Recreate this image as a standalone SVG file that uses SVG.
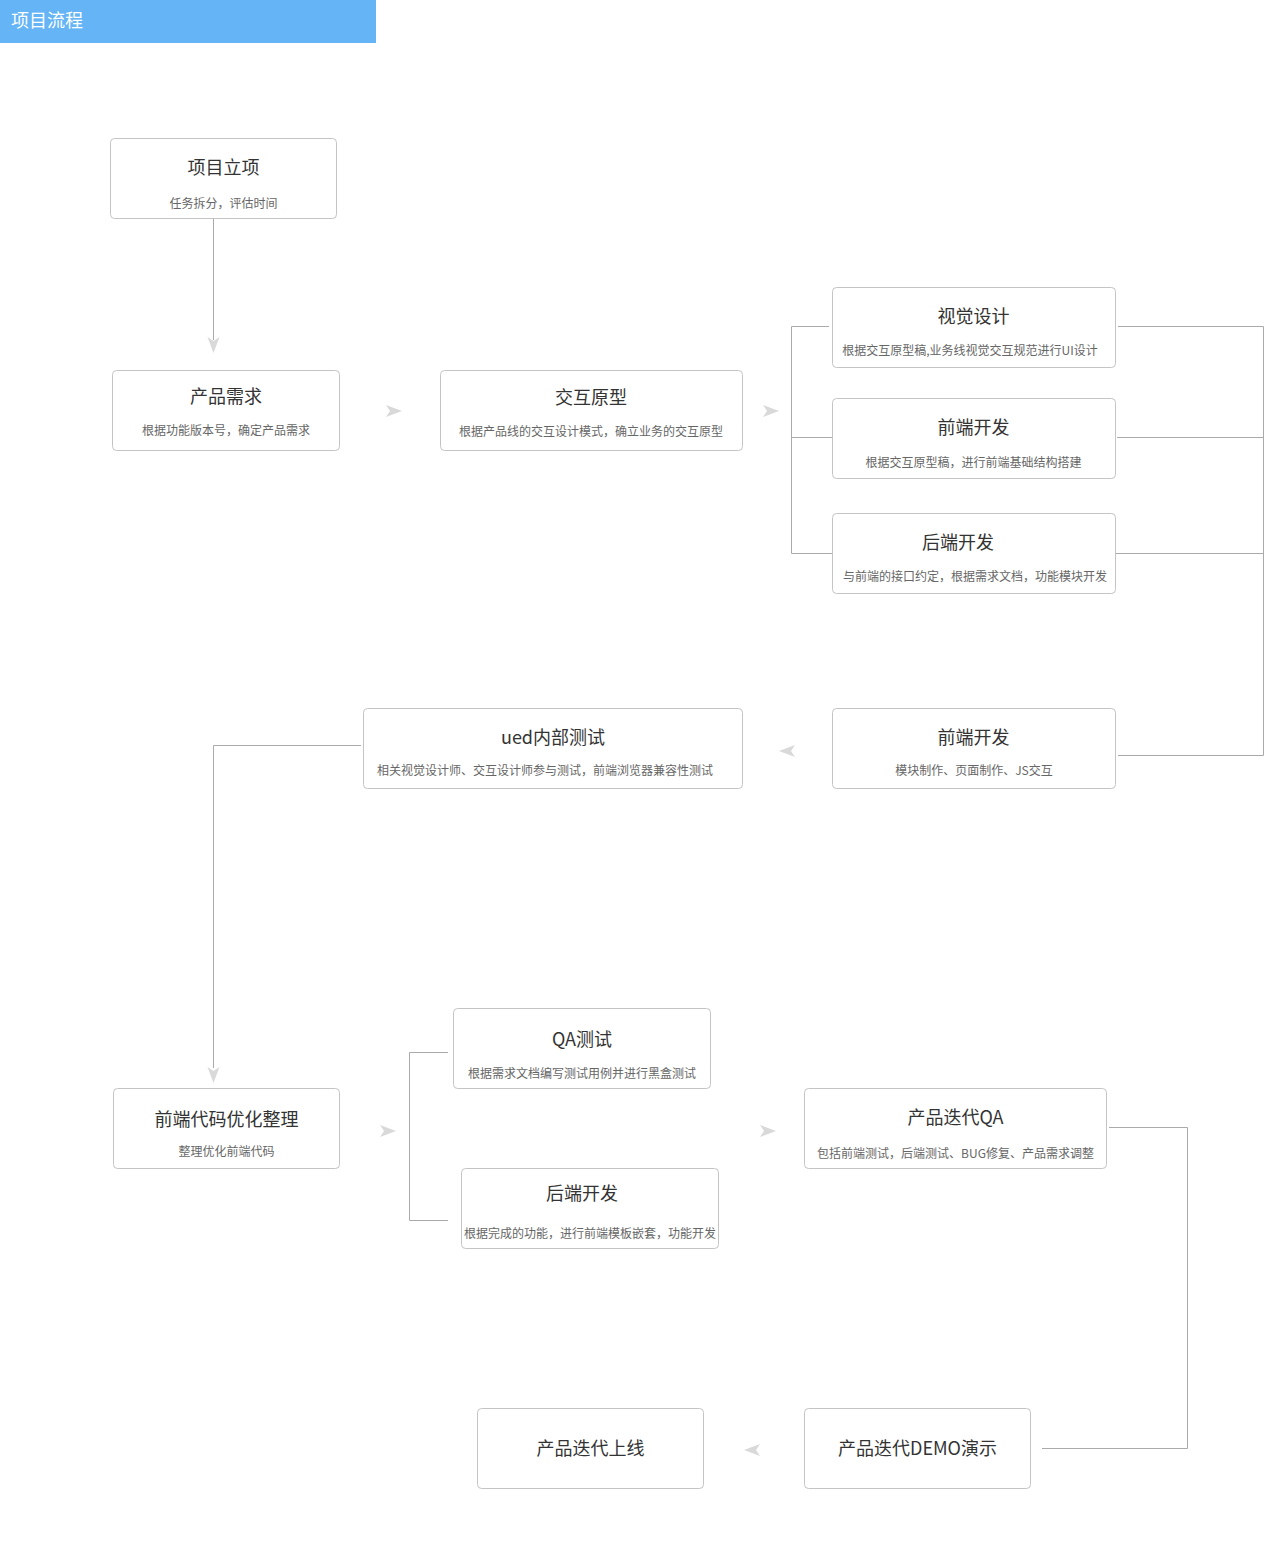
<svg xmlns="http://www.w3.org/2000/svg" width="1285" height="1566" viewBox="0 0 1285 1566">
<style>
.box{fill:#fff;stroke:#c4c4c4;stroke-width:1}
.t{font-family:"Noto Sans CJK SC","Liberation Sans",sans-serif;font-size:18px;fill:#333;text-anchor:middle}
.s{font-family:"Noto Sans CJK SC","Liberation Sans",sans-serif;font-size:12px;fill:#666;text-anchor:middle}
.ln{fill:none;stroke:#aaa;stroke-width:1}
.ar{fill:#d9d9d9}
</style>
<defs>
<path id="arR" d="M8,0 L-8,-6 L-4,0 L-8,6 Z" class="ar"/>
</defs>
<rect x="0" y="0" width="376" height="43" fill="#64b4f6"/>
<text x="11" y="27" font-family="Noto Sans CJK SC,Liberation Sans,sans-serif" font-size="18" fill="#fff">项目流程</text>

<g id="connectors">
<path class="ln" d="M213.5,218 V340"/>
<path class="ln" d="M829,326.5 H791.5 V553.5 H832 M791.5,437.5 H832"/>
<path class="ln" d="M1118,326.5 H1263.5 V755.5 H1118 M1117,437.5 H1263.5 M1116,553.5 H1263.5"/>
<path class="ln" d="M361,745.5 H213.5 V1068"/>
<path class="ln" d="M448,1052.5 H409.5 V1220.5 H448"/>
<path class="ln" d="M1109,1127.5 H1187.5 V1448.5 H1042"/>
<use href="#arR" transform="translate(213.5,345) rotate(90)"/>
<use href="#arR" transform="translate(394,411)"/>
<use href="#arR" transform="translate(771,411)"/>
<use href="#arR" transform="translate(787,751) rotate(180)"/>
<use href="#arR" transform="translate(213.5,1075) rotate(90)"/>
<use href="#arR" transform="translate(388,1131)"/>
<use href="#arR" transform="translate(768,1131)"/>
<use href="#arR" transform="translate(752,1450) rotate(180)"/>
</g>

<g id="n1"><rect class="box" x="110.5" y="138.5" width="226" height="80" rx="4"/><text class="t" x="223.5" y="174">项目立项</text><text class="s" x="223.5" y="208">任务拆分，评估时间</text></g>
<g id="n2"><rect class="box" x="112.5" y="370.5" width="227" height="80" rx="4"/><text class="t" x="226" y="403">产品需求</text><text class="s" x="226" y="435">根据功能版本号，确定产品需求</text></g>
<g id="n3"><rect class="box" x="440.5" y="370.5" width="302" height="80" rx="4"/><text class="t" x="591" y="404">交互原型</text><text class="s" x="591" y="436">根据产品线的交互设计模式，确立业务的交互原型</text></g>
<g id="n4"><rect class="box" x="832.5" y="287.5" width="283" height="80" rx="4"/><text class="t" x="973.5" y="323">视觉设计</text><text class="s" x="970" y="355">根据交互原型稿,业务线视觉交互规范进行UI设计</text></g>
<g id="n5"><rect class="box" x="832.5" y="398.5" width="283" height="80" rx="4"/><text class="t" x="973.5" y="434">前端开发</text><text class="s" x="973.5" y="467">根据交互原型稿，进行前端基础结构搭建</text></g>
<g id="n6"><rect class="box" x="832.5" y="513.5" width="283" height="80" rx="4"/><text class="t" x="958" y="549">后端开发</text><text class="s" x="975" y="581">与前端的接口约定，根据需求文档，功能模块开发</text></g>
<g id="n7"><rect class="box" x="832.5" y="708.5" width="283" height="80" rx="4"/><text class="t" x="973.5" y="744">前端开发</text><text class="s" x="974" y="775">模块制作、页面制作、JS交互</text></g>
<g id="n8"><rect class="box" x="363.5" y="708.5" width="379" height="80" rx="4"/><text class="t" x="553" y="744">ued内部测试</text><text class="s" x="545" y="775">相关视觉设计师、交互设计师参与测试，前端浏览器兼容性测试</text></g>
<g id="n9"><rect class="box" x="113.5" y="1088.5" width="226" height="80" rx="4"/><text class="t" x="226.5" y="1126">前端代码优化整理</text><text class="s" x="226.5" y="1156">整理优化前端代码</text></g>
<g id="n10"><rect class="box" x="453.5" y="1008.5" width="257" height="80" rx="4"/><text class="t" x="582" y="1046">QA测试</text><text class="s" x="582" y="1078">根据需求文档编写测试用例并进行黑盒测试</text></g>
<g id="n11"><rect class="box" x="461.5" y="1168.5" width="257" height="80" rx="4"/><text class="t" x="582" y="1200">后端开发</text><text class="s" x="590" y="1238">根据完成的功能，进行前端模板嵌套，功能开发</text></g>
<g id="n12"><rect class="box" x="804.5" y="1088.5" width="302" height="80" rx="4"/><text class="t" x="955.5" y="1124">产品迭代QA</text><text class="s" x="955.5" y="1158">包括前端测试，后端测试、BUG修复、产品需求调整</text></g>
<g id="n13"><rect class="box" x="477.5" y="1408.5" width="226" height="80" rx="4"/><text class="t" x="590.5" y="1455">产品迭代上线</text></g>
<g id="n14"><rect class="box" x="804.5" y="1408.5" width="226" height="80" rx="4"/><text class="t" x="917.5" y="1455">产品迭代DEMO演示</text></g>
</svg>
